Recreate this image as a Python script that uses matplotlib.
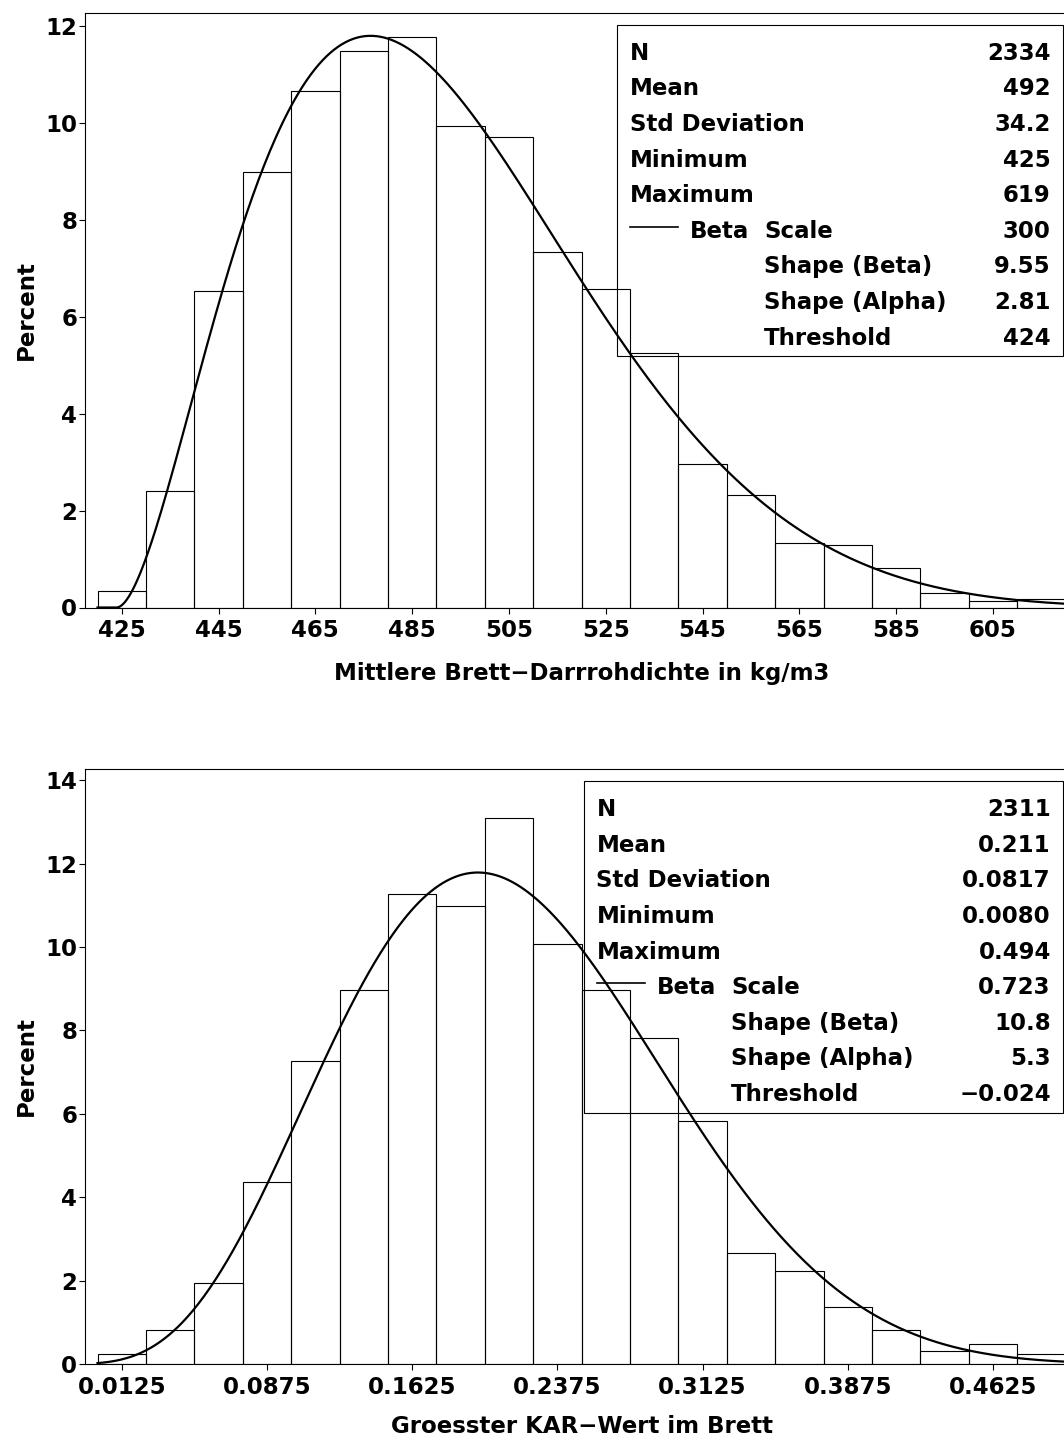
import math
import numpy as np
import matplotlib
matplotlib.use("Agg")
import matplotlib.pyplot as plt
from matplotlib.lines import Line2D
from matplotlib.patches import Rectangle

W, H = 1064, 1438

# Mittlere Brett-Darrrohdichte: Klassenmitten (kg/m3) und Anteil in Prozent
dens_mid = [425, 435, 445, 455, 465, 475, 485, 495, 505, 515,
            525, 535, 545, 555, 565, 575, 585, 595, 605, 615]
dens_pct = [0.33, 2.40, 6.52, 8.98, 10.66, 11.48, 11.77, 9.92, 9.71, 7.34,
            6.57, 5.24, 2.95, 2.31, 1.33, 1.28, 0.81, 0.29, 0.13, 0.17]
dens_ticks = [425, 445, 465, 485, 505, 525, 545, 565, 585, 605]
dens_ticklabels = ["425", "445", "465", "485", "505", "525", "545", "565", "585", "605"]
dens_labels = ["N", "Mean", "Std Deviation", "Minimum", "Maximum",
               "Scale", "Shape (Beta)", "Shape (Alpha)", "Threshold"]
dens_values = ["2334", "492", "34.2", "425", "619", "300", "9.55", "2.81", "424"]
dens_fit = (424, 300, 2.81, 9.55)   # threshold, scale, alpha, beta

# Groesster KAR-Wert
kar_mid = [0.0125, 0.0375, 0.0625, 0.0875, 0.1125, 0.1375, 0.1625, 0.1875, 0.2125, 0.2375,
           0.2625, 0.2875, 0.3125, 0.3375, 0.3625, 0.3875, 0.4125, 0.4375, 0.4625, 0.4875]
kar_pct = [0.24, 0.81, 1.94, 4.37, 7.26, 8.98, 11.27, 10.98, 13.10, 10.07,
           8.98, 7.81, 5.83, 2.67, 2.24, 1.37, 0.81, 0.30, 0.47, 0.24]
kar_ticks = [0.0125, 0.0875, 0.1625, 0.2375, 0.3125, 0.3875, 0.4625]
kar_ticklabels = ["0.0125", "0.0875", "0.1625", "0.2375", "0.3125", "0.3875", "0.4625"]
kar_labels = dens_labels
kar_values = ["2311", "0.211", "0.0817", "0.0080", "0.494", "0.723", "10.8", "5.3", "\u22120.024"]
kar_fit = (-0.024, 0.723, 5.3, 10.8)

FS = 16.5
plt.rcParams["font.family"] = "DejaVu Sans"
plt.rcParams["font.weight"] = "bold"


def px(x, y):
    return x / W, 1 - y / H


def beta_pct(x, fit, binw):
    theta, sigma, a, b = fit
    u = np.clip((x - theta) / sigma, 1e-12, 1 - 1e-12)
    lnB = math.lgamma(a) + math.lgamma(b) - math.lgamma(a + b)
    pdf = np.exp((a - 1) * np.log(u) + (b - 1) * np.log(1 - u) - lnB) / sigma
    return 100 * binw * pdf


def panel(fig, top, mid, pct, ticks, ticklabels, fit, ylim, yticks, xlabel,
          labels, values, box_left, box_top, xlabel_y=-0.091):
    left, right, height = 85.4, 1077.6, 595
    ax = fig.add_axes([left / W, 1 - (top + height) / H, (right - left) / W, height / H])
    binw = mid[1] - mid[0]
    ax.bar(mid, pct, width=binw, fill=False, edgecolor="black", linewidth=0.8)
    x = np.linspace(mid[0] - binw / 2, mid[-1] + binw / 2, 500)
    ax.plot(x, beta_pct(x, fit, binw), color="black", linewidth=1.6)
    ax.set_xlim(mid[0] - 0.75 * binw, mid[-1] + 0.75 * binw)
    ax.set_ylim(0, ylim)
    ax.set_xticks(ticks)
    ax.set_xticklabels(ticklabels)
    ax.set_yticks(yticks)
    ax.tick_params(direction="out", length=4.5, width=0.8, labelsize=FS)
    ax.tick_params(axis="x", pad=4)
    ax.tick_params(axis="y", pad=1.5)
    for s in ax.spines.values():
        s.set_linewidth(0.8)
    ax.set_xlabel(xlabel, fontsize=FS, fontweight="bold")
    ax.set_ylabel("Percent", fontsize=FS, fontweight="bold")
    ax.xaxis.set_label_coords(0.5, xlabel_y)
    ax.yaxis.set_label_coords(-0.048, 0.5)

    # Statistik-Kasten
    row0, step = 26.8, 35.6
    box_h = row0 + 8 * step + 20
    x0, y0 = px(box_left, box_top + box_h)
    fig.patches.append(Rectangle((x0, y0), (1063 - box_left) / W, box_h / H,
                                 transform=fig.transFigure, fill=False,
                                 edgecolor="black", linewidth=0.8))
    lab_x = box_left + 12.5
    shape_x = box_left + 147
    val_x = 1050.8
    for i, (lab, val) in enumerate(zip(labels, values)):
        yb = box_top + row0 + i * step + 8.4
        if i < 5:
            fig.text(*px(lab_x, yb), lab, fontsize=FS, fontweight="bold", va="baseline")
        elif i == 5:
            fig.lines.append(Line2D([lab_x / W, (lab_x + 48.5) / W],
                                    [1 - (yb - 11) / H] * 2, transform=fig.transFigure,
                                    color="black", linewidth=1.2))
            fig.text(*px(box_left + 73, yb), "Beta", fontsize=FS, fontweight="bold", va="baseline")
            fig.text(*px(shape_x, yb), lab, fontsize=FS, fontweight="bold", va="baseline")
        else:
            fig.text(*px(shape_x, yb), lab, fontsize=FS, fontweight="bold", va="baseline")
        fig.text(*px(val_x, yb), val, fontsize=FS, fontweight="bold", va="baseline", ha="right")
    return ax


fig = plt.figure(figsize=(W / 100, H / 100), dpi=100)
panel(fig, 12.5, dens_mid, dens_pct, dens_ticks, dens_ticklabels, dens_fit,
      12.27, np.arange(0, 13, 2), "Mittlere Brett\u2212Darrrohdichte in kg/m3",
      dens_labels, dens_values, 617, 24.6)
panel(fig, 769, kar_mid, kar_pct, kar_ticks, kar_ticklabels, kar_fit,
      14.27, np.arange(0, 15, 2), "Groesster KAR\u2212Wert im Brett",
      kar_labels, kar_values, 584, 781, xlabel_y=-0.086)
fig.savefig("out.png", dpi=100)
